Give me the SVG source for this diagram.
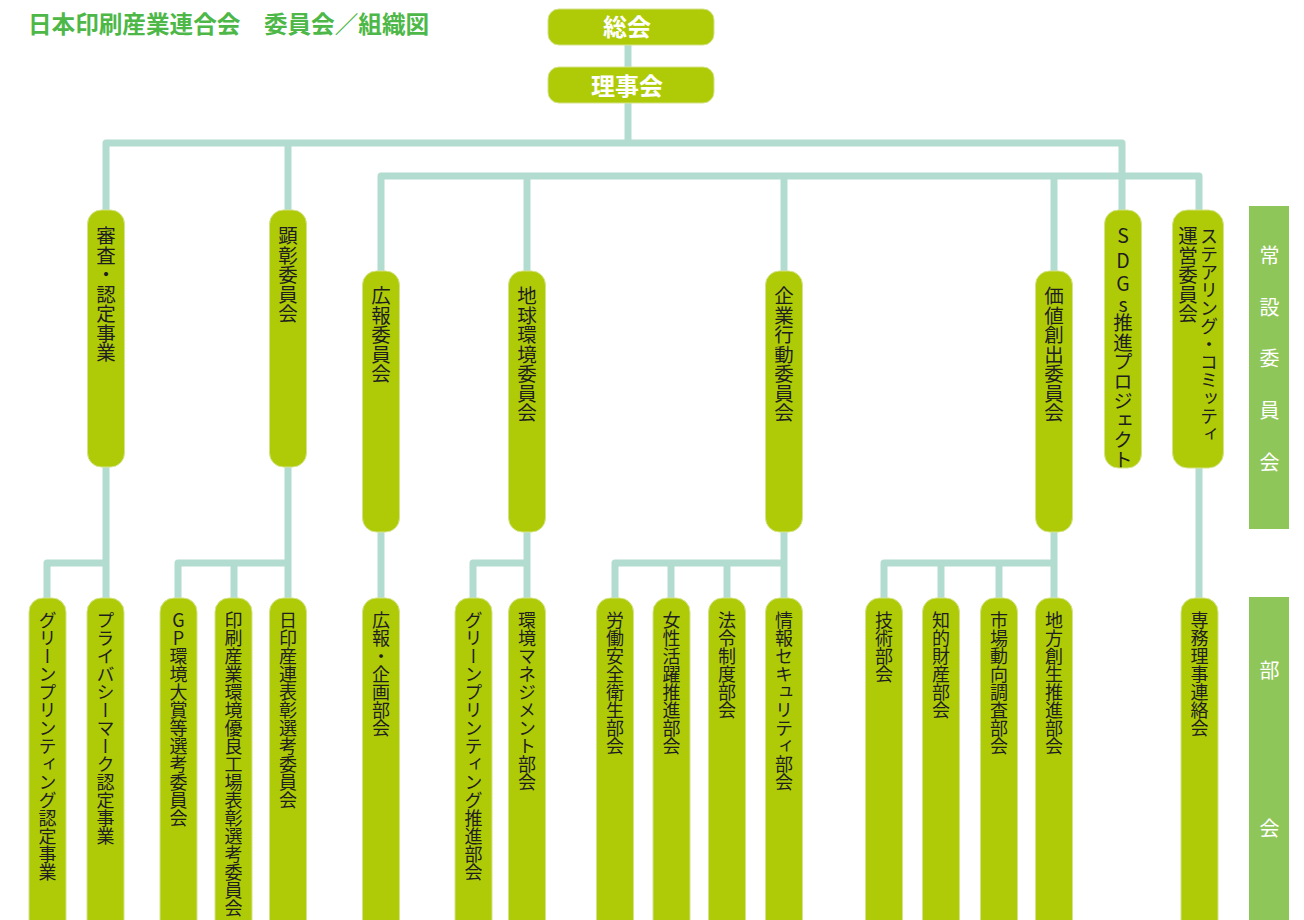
<svg xmlns="http://www.w3.org/2000/svg" width="1304" height="920" viewBox="0 0 1304 920">
<style>
.bg{fill:#ffffff}
.node rect{fill:#afcb08;stroke:#d3e38a;stroke-width:1}
.top rect{fill:#afcb08;stroke:#d3e38a;stroke-width:1}
.ttl{font-family:"Noto Sans CJK JP","Noto Sans CJK SC",sans-serif;font-weight:bold;font-size:24px;fill:#ffffff;text-anchor:middle}
.vt{font-family:"Noto Sans CJK JP","Noto Sans CJK SC",sans-serif;writing-mode:vertical-rl;font-size:19.5px;fill:#1e1e1e}
.vb{font-size:18px}
.up{text-orientation:upright}
.conn path{fill:none;stroke:#b3dcd0;stroke-width:7;stroke-linejoin:round}
.bar rect{fill:#8fc65a}
.bar text{font-family:"Noto Sans CJK JP","Noto Sans CJK SC",sans-serif;font-size:20px;fill:#ffffff;text-anchor:middle}
.title{font-family:"Noto Sans CJK JP","Noto Sans CJK SC",sans-serif;font-weight:bold;font-size:23.6px;fill:#4db848}
</style>
<rect class="bg" x="0" y="0" width="1304" height="920"/>
<text class="title" x="28" y="33">日本印刷産業連合会　委員会／組織図</text>

<g id="connectors" class="conn">
<path d="M628 45 V67"/>
<path d="M628 103 V143"/>
<path d="M106 210 V143 H1122 V210"/>
<path d="M288 143 V210"/>
<path d="M381 271 V176 H1199 V210"/>
<path d="M527 176 V271"/>
<path d="M784 176 V271"/>
<path d="M1054 176 V271"/>
<path d="M106 467 V598"/>
<path d="M47 598 V563 H106"/>
<path d="M288 467 V598"/>
<path d="M178 598 V563 H288"/>
<path d="M234 563 V598"/>
<path d="M381 532 V598"/>
<path d="M527 532 V598"/>
<path d="M473 598 V563 H527"/>
<path d="M784 532 V598"/>
<path d="M615 598 V563 H784"/>
<path d="M671 563 V598"/>
<path d="M727 563 V598"/>
<path d="M1054 532 V598"/>
<path d="M884 598 V563 H1054"/>
<path d="M941 563 V598"/>
<path d="M999 563 V598"/>
<path d="M1199 467 V598"/>
</g>

<g id="soukai" class="top"><rect x="548" y="9" width="166" height="36" rx="11"/><text class="ttl" x="627" y="35.5">総会</text></g>
<g id="rijikai" class="top"><rect x="548" y="67" width="166" height="36" rx="11"/><text class="ttl" x="627" y="95">理事会</text></g>

<g id="shinsa" class="node"><rect x="87.5" y="210" width="37" height="257" rx="14"/><text class="vt" x="106" y="226">審査・認定事業</text></g>
<g id="kensho" class="node"><rect x="269.5" y="210" width="37" height="257" rx="14"/><text class="vt" x="288" y="226">顕彰委員会</text></g>
<g id="koho" class="node"><rect x="362.5" y="271" width="37" height="261" rx="14"/><text class="vt" x="381" y="286">広報委員会</text></g>
<g id="chikyu" class="node"><rect x="508.5" y="271" width="37" height="261" rx="14"/><text class="vt" x="527" y="286">地球環境委員会</text></g>
<g id="kigyo" class="node"><rect x="765.5" y="271" width="37" height="261" rx="14"/><text class="vt" x="784" y="286">企業行動委員会</text></g>
<g id="kachi" class="node"><rect x="1035.5" y="271" width="37" height="261" rx="14"/><text class="vt" x="1054" y="286">価値創出委員会</text></g>
<g id="sdgs" class="node"><rect x="1104.5" y="210" width="37" height="258" rx="14"/><text class="vt up" x="1123"><tspan y="226">S</tspan><tspan y="250">D</tspan><tspan y="274">G</tspan><tspan y="294">s</tspan><tspan y="313">推進プロジェクト</tspan></text></g>
<g id="steering" class="node"><rect x="1172.5" y="210" width="51" height="258" rx="15"/><text class="vt" style="font-size:18px" x="1209" y="227">ステアリング・コミッティ</text><text class="vt" x="1188" y="226">運営委員会</text></g>

<g id="gp-nintei" class="node"><rect x="29" y="598" width="37" height="340" rx="14"/><text class="vt vb" x="47.5" y="611">グリーンプリンティング認定事業</text></g>
<g id="pmark" class="node"><rect x="87" y="598" width="37" height="340" rx="14"/><text class="vt vb" x="105.5" y="611">プライバシーマーク認定事業</text></g>
<g id="gp-taisho" class="node"><rect x="160" y="598" width="37" height="340" rx="14"/><text class="vt vb up" x="178.5" y="611">GP環境大賞等選考委員会</text></g>
<g id="yuryo" class="node"><rect x="215" y="598" width="37" height="340" rx="14"/><text class="vt vb" x="233.5" y="611">印刷産業環境優良工場表彰選考委員会</text></g>
<g id="hyosho" class="node"><rect x="269.5" y="598" width="37" height="340" rx="14"/><text class="vt vb" x="288" y="611">日印産連表彰選考委員会</text></g>
<g id="koho-kikaku" class="node"><rect x="362.5" y="598" width="37" height="340" rx="14"/><text class="vt vb" x="381" y="611">広報・企画部会</text></g>
<g id="gp-suishin" class="node"><rect x="455" y="598" width="37" height="340" rx="14"/><text class="vt vb" x="473.5" y="611">グリーンプリンティング推進部会</text></g>
<g id="kankyo-mgmt" class="node"><rect x="508.5" y="598" width="37" height="340" rx="14"/><text class="vt vb" x="527" y="611">環境マネジメント部会</text></g>
<g id="rodo" class="node"><rect x="596.5" y="598" width="37" height="340" rx="14"/><text class="vt vb" x="615" y="611">労働安全衛生部会</text></g>
<g id="josei" class="node"><rect x="653" y="598" width="37" height="340" rx="14"/><text class="vt vb" x="671.5" y="611">女性活躍推進部会</text></g>
<g id="horei" class="node"><rect x="708.5" y="598" width="37" height="340" rx="14"/><text class="vt vb" x="727" y="611">法令制度部会</text></g>
<g id="joho" class="node"><rect x="765.5" y="598" width="37" height="340" rx="14"/><text class="vt vb" x="784" y="611">情報セキュリティ部会</text></g>
<g id="gijutsu" class="node"><rect x="865.5" y="598" width="37" height="340" rx="14"/><text class="vt vb" x="884" y="611">技術部会</text></g>
<g id="chiteki" class="node"><rect x="922.5" y="598" width="37" height="340" rx="14"/><text class="vt vb" x="941" y="611">知的財産部会</text></g>
<g id="shijo" class="node"><rect x="980.5" y="598" width="37" height="340" rx="14"/><text class="vt vb" x="999" y="611">市場動向調査部会</text></g>
<g id="chiho" class="node"><rect x="1035.5" y="598" width="37" height="340" rx="14"/><text class="vt vb" x="1054" y="611">地方創生推進部会</text></g>
<g id="senmu" class="node"><rect x="1181" y="598" width="37" height="340" rx="14"/><text class="vt vb" x="1199.5" y="611">専務理事連絡会</text></g>

<g id="bar-joset" class="bar"><rect x="1249" y="206" width="40" height="323"/><text x="1269.5"><tspan x="1269.5" y="263">常</tspan><tspan x="1269.5" y="315">設</tspan><tspan x="1269.5" y="366">委</tspan><tspan x="1269.5" y="418">員</tspan><tspan x="1269.5" y="470">会</tspan></text></g>
<g id="bar-bukai" class="bar"><rect x="1249" y="597" width="40" height="330"/><text x="1269.5"><tspan x="1269.5" y="678">部</tspan><tspan x="1269.5" y="836">会</tspan></text></g>
</svg>
